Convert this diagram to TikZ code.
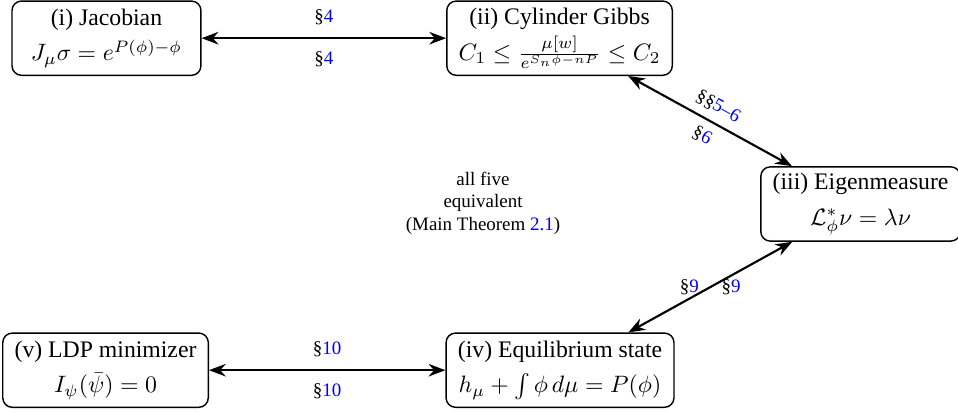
\documentclass[tikz,border=0pt]{standalone}
\usepackage{amsmath,amssymb}
\usepackage{fontspec}
\setmainfont{Liberation Serif}
\usepackage{xcolor}
\usetikzlibrary{arrows.meta, positioning}
\newcommand{\secref}[1]{\S\textcolor{blue}{#1}}

\begin{document}
\begin{tikzpicture}[
  >=Stealth,
  every node/.style={align=center},
  cond/.style={draw, rounded corners=4pt, line width=0.6pt,
               minimum width=2.8cm, minimum height=1.1cm, inner xsep=5pt, inner ysep=2pt},
  arr/.style={<->, line width=0.9pt},
  lbl/.style={font=\footnotesize},
]
\useasboundingbox (0,0) rectangle (14.197,6.106);

%% the five conditions
\node[cond] (jac)   at (1.578, 5.54) {(i) Jacobian\\[3pt] $J_\mu\sigma = e^{P(\phi)-\phi}$};
\node[cond] (gibbs) at (8.292, 5.54)
  {(ii) Cylinder Gibbs\\[2pt] $C_1 \le \frac{\mu[w]}{e^{S_n\phi - nP}} \le C_2$};
\node[cond] (eigen) at (12.753, 3.083) {(iii) Eigenmeasure\\[3pt] $\mathcal{L}_\phi^{*}\nu = \lambda\nu$};
\node[cond] (equil) at (8.299, 0.62)
  {(iv) Equilibrium state\\[3pt] $h_\mu + \int\phi\,d\mu = P(\phi)$};
\node[cond] (ldp)   at (1.564, 0.62) {(v) LDP minimizer\\[3pt] $I_\psi(\bar\psi) = 0$};

%% centre remark
\node[font=\footnotesize] (thm) at (7.158, 3.097)
  {all five\\ equivalent\\ (Main Theorem \textcolor{blue}{2.1})};

%% implications
\draw[arr] (jac) -- (gibbs)
  node[lbl, midway, above=2pt]{\secref{4}}
  node[lbl, midway, below=2pt]{\secref{4}};
\draw[arr] (gibbs) -- (eigen)
  node[lbl, midway, sloped, above]{\S\secref{5--6}}
  node[lbl, midway, sloped, below]{\secref{6}};
\draw[arr] (eigen) -- (equil)
  node[lbl, midway, left=1pt]{\secref{9}}
  node[lbl, midway, right=1pt]{\secref{9}};
\draw[arr] (ldp) -- (equil)
  node[lbl, midway, above=2pt]{\secref{10}}
  node[lbl, midway, below=2pt]{\secref{10}};

\end{tikzpicture}
\end{document}
